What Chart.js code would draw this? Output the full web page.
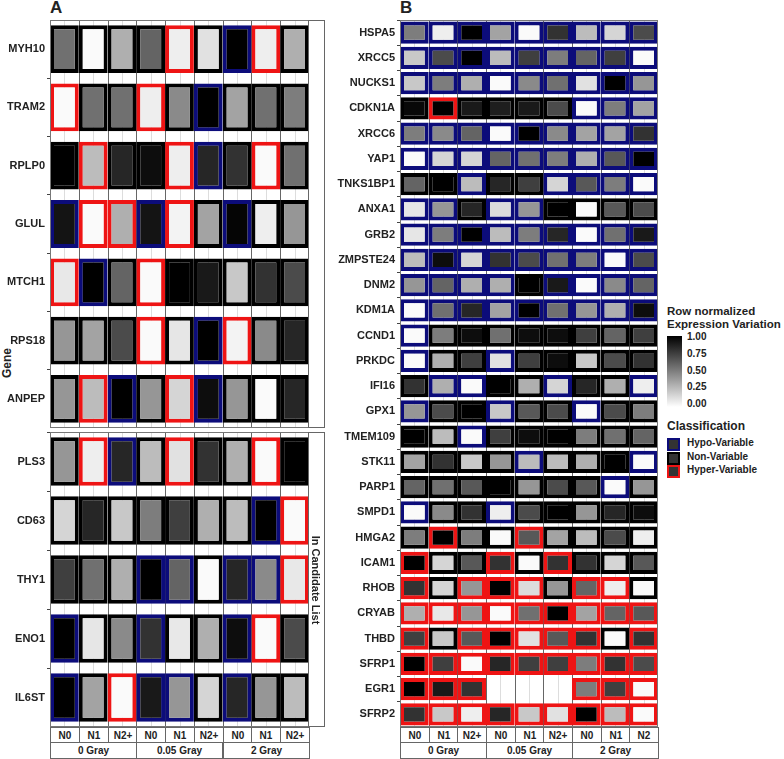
<!DOCTYPE html>
<html><head><meta charset="utf-8">
<script src="https://cdn.jsdelivr.net/npm/chart.js@4"></script>
<style>
body{margin:0;width:784px;height:759px;position:relative;background:#fff;font-family:"Liberation Sans",Arial,sans-serif;overflow:hidden}
canvas{position:absolute}
.t{position:absolute;font-weight:bold;color:#222;white-space:nowrap}
.box{position:absolute;border:1px solid #666;box-sizing:border-box;background:#fff;font-weight:bold;font-size:10px;color:#222;display:flex;align-items:center;justify-content:center}
</style></head><body>
<div class="t" style="left:50px;top:-2px;font-size:17px">A</div>
<div class="t" style="left:400px;top:-2px;font-size:17px">B</div>
<div class="t" style="left:-8px;top:356px;font-size:12px;transform:rotate(-90deg)">Gene</div>
<canvas id="a1"></canvas><canvas id="a2"></canvas><canvas id="b"></canvas>
<div id="extra"></div>
<script>
var colsA = ["N0", "N1", "N2+", "N0", "N1", "N2+", "N0", "N1", "N2+"];
var colsB = ["N0", "N1", "N2+", "N0", "N1", "N2+", "N0", "N1", "N2"];
var doses = ["0 Gray", "0.05 Gray", "2 Gray"];

// 0 = hypo, 1 = non, 2 = hyper
var genesA1 = ["MYH10", "TRAM2", "RPLP0", "GLUL", "MTCH1", "RPS18", "ANPEP"];
var valsA1 = [
  [.55,0,.3,.6,.05,.1,1,.05,.3],
  [0,.55,.55,.05,.45,1,.35,.55,.5],
  [1,.25,.85,.95,.05,.85,.8,0,.55],
  [.92,0,.3,.92,.03,.35,.98,.05,.4],
  [.07,1,.6,0,1,.9,.2,.8,.7],
  [.4,.35,.7,0,.08,1,.03,.45,.85],
  [.4,.25,1,.4,.15,.95,.4,0,.85]
];
var clsA1 = [
  [1,1,1,1,2,1,0,2,1],
  [2,1,1,2,1,0,1,1,1],
  [1,2,1,1,2,0,1,2,1],
  [0,2,2,0,2,1,0,1,1],
  [2,0,1,2,1,1,1,1,1],
  [1,1,1,2,1,0,2,1,1],
  [1,2,0,1,2,0,1,1,1]
];
var genesA2 = ["PLS3", "CD63", "THY1", "ENO1", "IL6ST"];
var valsA2 = [
  [.4,.05,.85,.25,.1,.8,.3,0,1],
  [.15,.85,.2,.5,.75,.3,.25,1,0],
  [.75,.55,.3,1,.6,0,.85,.45,.07],
  [1,.08,.45,.8,.07,.3,.95,0,.7],
  [1,.35,0,.9,.4,.15,.85,.4,.25]
];
var clsA2 = [
  [1,2,0,1,2,1,1,2,1],
  [1,1,1,1,1,1,1,0,2],
  [1,1,1,0,0,1,0,0,2],
  [0,1,1,0,1,1,0,2,1],
  [0,1,2,0,0,1,0,1,1]
];
var genesB = ["HSPA5","XRCC5","NUCKS1","CDKN1A","XRCC6","YAP1","TNKS1BP1","ANXA1","GRB2","ZMPSTE24",
  "DNM2","KDM1A","CCND1","PRKDC","IFI16","GPX1","TMEM109","STK11","PARP1","SMPD1",
  "HMGA2","ICAM1","RHOB","CRYAB","THBD","SFRP1","EGR1","SFRP2"];
var valsB = [
  [.5,.05,1,.35,0,.8,.25,.15,.7],
  [.2,.7,1,.25,.75,.5,.6,.75,0],
  [.2,.5,.3,0,.45,.55,.1,1,.4],
  [.97,1,.9,.88,.9,.7,0,.5,.35],
  [.5,.45,.6,0,1,.45,.35,.35,.8],
  [0,.15,.15,.6,.55,.5,.3,.65,1],
  [.6,1,.25,.85,.75,.15,.65,.5,0],
  [.08,.4,.85,.12,.4,1,0,.65,.7],
  [.08,.5,1,.25,.5,.85,0,.55,.9],
  [.25,.95,.15,.8,.7,.55,.5,0,.7],
  [.4,.6,.3,.3,1,.9,0,.45,.6],
  [0,.55,.85,.35,1,.55,.4,.3,.95],
  [0,.5,.95,.55,.95,.95,.75,.6,.75],
  [0,.3,.75,.1,.75,.95,.2,.7,.8],
  [.8,.3,0,1,.3,.15,.85,.3,.05],
  [.4,.7,1,.2,.65,.7,0,.7,.5],
  [1,.25,0,.75,.95,1,.5,.55,.6],
  [.35,.8,.2,.4,.25,.25,.3,1,0],
  [.6,.55,.65,1,.4,.7,.65,0,.4],
  [0,.45,.8,.05,.7,1,.4,.85,.95],
  [.5,1,.5,0,.65,.35,.25,.7,.05],
  [1,.15,.65,.8,0,.8,.8,.15,.65],
  [.8,.15,.4,1,.12,.4,.6,.05,0],
  [.3,.07,.4,0,.55,1,.35,.6,.65],
  [.75,.2,.65,1,.1,.65,.8,0,.8],
  [1,.75,0,.85,.75,.75,.5,.8,.7],
  [1,.9,.8,null,null,null,.5,.75,0],
  [.8,.2,.05,.85,.2,.1,1,.25,0]
];
var clsB = [
  [0,0,0,0,0,0,0,0,0],
  [0,0,0,0,0,0,0,0,0],
  [0,0,0,0,0,0,0,0,0],
  [1,2,1,1,1,1,0,0,0],
  [0,0,0,0,0,0,0,0,0],
  [0,0,0,0,0,0,0,0,0],
  [1,1,0,1,1,0,0,0,0],
  [0,0,1,0,0,1,1,1,1],
  [0,0,0,0,0,0,0,0,0],
  [0,0,0,0,0,0,0,0,0],
  [0,0,0,0,1,0,0,0,0],
  [0,0,0,0,0,0,0,0,0],
  [0,1,1,1,1,1,1,1,1],
  [0,1,1,0,1,1,1,1,1],
  [1,0,0,1,1,0,1,1,0],
  [0,1,1,0,1,1,0,1,1],
  [1,1,0,1,1,1,1,1,1],
  [1,1,1,1,0,1,1,1,0],
  [1,1,1,1,1,1,1,0,1],
  [0,1,1,0,1,1,1,1,1],
  [1,2,1,1,2,1,1,1,1],
  [2,1,1,2,1,2,1,1,1],
  [2,1,2,2,2,1,2,2,1],
  [2,2,2,2,2,2,2,2,2],
  [2,1,2,2,2,2,2,1,2],
  [2,2,2,2,2,2,2,2,2],
  [2,2,2,2,2,2,2,2,2],
  [2,2,2,2,2,2,2,2,2]
];

var borderCols = ["#0c0c7a", "#000000", "#ee1414"];

function grey(v) {
  var g = Math.round(250 * (1 - v));
  return "rgb(" + g + "," + g + "," + g + ")";
}

// column grid lines and panel frame
var framePlugin = {
  id: "frame",
  beforeDatasetsDraw: function (chart) {
    var a = chart.chartArea, ctx = chart.ctx, x = chart.scales.x;
    ctx.save();
    ctx.lineWidth = 1;
    for (var v = 0; v <= 9; v += 0.5) {
      var px = Math.round(x.getPixelForValue(v)) + 0.5;
      ctx.strokeStyle = v % 1 === 0 ? "#666" : "#ddd";
      ctx.beginPath(); ctx.moveTo(px, a.top); ctx.lineTo(px, a.bottom); ctx.stroke();
    }
    ctx.restore();
  },
  afterDraw: function (chart) {
    var a = chart.chartArea, ctx = chart.ctx;
    ctx.save();
    ctx.strokeStyle = "#777";
    ctx.lineWidth = 1;
    ctx.strokeRect(a.left + 0.5, a.top + 0.5, a.right - a.left - 1, a.bottom - a.top - 1);
    ctx.restore();
  }
};

function makeHeat(id, left, top, width, height, axisW, genes, vals, cls, bw, barPct) {
  var cv = document.getElementById(id);
  cv.width = width; cv.height = height;
  cv.style.left = left + "px";
  cv.style.top = top + "px";
  cv.style.width = width + "px"; cv.style.height = height + "px";
  var datasets = [];
  for (var c = 0; c < 9; c++) {
    datasets.push({
      data: vals.map(function (r) { return r[c] == null ? null : [c, c + 1]; }),
      backgroundColor: vals.map(function (r) { return grey(r[c] || 0); }),
      borderColor: cls.map(function (r) { return borderCols[r[c]]; }),
      borderWidth: bw,
      borderSkipped: false,
      grouped: false,
      categoryPercentage: 1,
      barPercentage: barPct
    });
  }
  return new Chart(cv, {
    type: "bar",
    data: { labels: genes, datasets: datasets },
    options: {
      indexAxis: "y",
      responsive: false,
      animation: false,
      devicePixelRatio: 1,
      layout: { padding: 0 },
      plugins: { legend: { display: false }, tooltip: { enabled: false } },
      scales: {
        x: { type: "linear", min: 0, max: 9, display: false },
        y: {
          ticks: { color: "#222", font: { family: "Liberation Sans", weight: "bold", size: 11 }, padding: 2 },
          grid: { drawOnChartArea: false, tickLength: 3, color: "#444" },
          border: { display: false },
          afterFit: function (s) { s.width = axisW; s.paddingTop = 0; s.paddingBottom = 0; }
        }
      }
    },
    plugins: [framePlugin]
  });
}

makeHeat("a1", 0, 20, 309, 408, 50, genesA1, valsA1, clsA1, 4, 0.82);
makeHeat("a2", 0, 432, 309, 295, 50, genesA2, valsA2, clsA2, 4, 0.82);
makeHeat("b", 330, 20, 328, 707, 70, genesB, valsB, clsB, 4, 0.88);

// strips, axis boxes, legend
var ex = document.getElementById("extra");
function box(l, t, w, h, txt, extra) {
  var d = document.createElement("div");
  d.className = "box";
  d.style.cssText = "left:" + l + "px;top:" + t + "px;width:" + w + "px;height:" + h + "px;" + (extra || "");
  d.textContent = txt || "";
  ex.appendChild(d);
  return d;
}
function txt(l, t, s, size, extra) {
  var d = document.createElement("div");
  d.className = "t";
  d.style.cssText = "left:" + l + "px;top:" + t + "px;font-size:" + size + "px;" + (extra || "");
  d.innerHTML = s;
  ex.appendChild(d);
}
box(308, 20, 17, 408);
var s2 = box(308, 432, 17, 295);
s2.innerHTML = '<span style="transform:rotate(90deg);white-space:nowrap;font-size:11px">In Candidate List</span>';

function xAxisBoxes(x0, x1, cols) {
  var w = (x1 - x0) / 9;
  for (var i = 0; i < 9; i++) box(Math.round(x0 + i * w), 727, Math.round(w) + 1, 16, cols[i]);
  for (var j = 0; j < 3; j++) box(Math.round(x0 + j * 3 * w), 742, Math.round(3 * w) + 1, 17, doses[j]);
}
xAxisBoxes(50, 309, colsA);
xAxisBoxes(400, 658, colsB);

txt(667, 305, "Row normalized<br>Expression Variation", 11.5, "line-height:13px");
var grad = document.createElement("div");
grad.style.cssText = "position:absolute;left:667px;top:336px;width:15px;height:71px;background:linear-gradient(#000,#fff)";
ex.appendChild(grad);
var tks = ["1.00", "0.75", "0.50", "0.25", "0.00"];
tks.forEach(function (t, i) { txt(687, 331 + i * 16.8, t, 10); });
txt(667, 419, "Classification", 12);
var keys = ["Hypo-Variable", "Non-Variable", "Hyper-Variable"];
keys.forEach(function (k, i) {
  var sq = document.createElement("div");
  sq.style.cssText = "position:absolute;left:667px;top:" + (438 + i * 13.5) + "px;width:9px;height:9px;background:#333;border:2px solid " + borderCols[i];
  ex.appendChild(sq);
  txt(687, 437 + i * 13.5, k, 10);
});
</script>
</body></html>
